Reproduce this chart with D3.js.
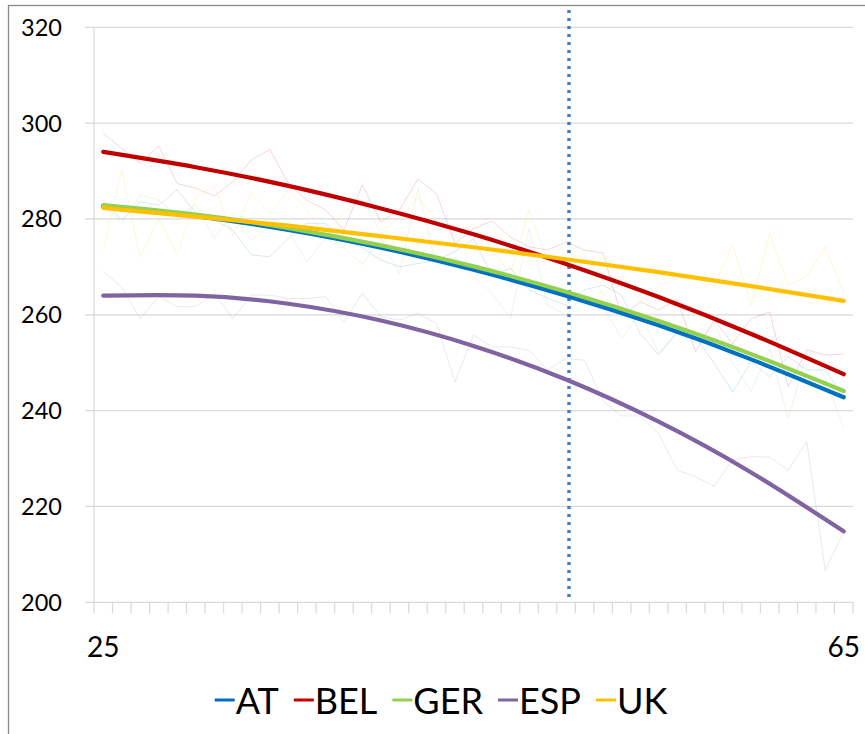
<!DOCTYPE html>
<html><head><meta charset="utf-8">
<script src="https://cdn.jsdelivr.net/npm/d3@7"></script>
<style>body{margin:0;background:#fff}svg{display:block}</style>
</head><body>
<svg id="c" width="865" height="734"></svg>
<script>
// ---- data ----
const ages = [25,26,27,28,29,30,31,32,33,34,35,36,37,38,39,40,41,42,43,44,45,46,47,48,49,50,51,52,53,54,55,56,57,58,59,60,61,62,63,64,65];
const countries = ["AT","BEL","GER","ESP","UK"];
const colors = ["#0070C0","#C00000","#92D050","#8064A2","#FFC000"];
const yTicks = [200,220,240,260,280,300,320];
const xTickLabels = [25,65];
const markerAge = 50.15;

// raw yearly values (faint lines)
const rawAT  = [283.9,279.8,283.6,282.9,286.1,281.2,279.8,277.7,272.5,272.1,275.9,279.1,279.1,275.6,274.0,271.4,270.0,270.7,271.4,273.2,275.9,268.3,269.7,265.2,263.5,262.0,265.2,266.2,264.1,256.1,251.6,256.5,255.4,249.9,243.9,250.2,247.1,251.3,248.5,248.5,242.9];
const rawBEL = [297.9,294.7,291.7,295.2,287.4,286.4,284.8,287.8,292.3,294.5,287.4,283.9,281.9,277.7,287.1,279.4,281.9,288.3,285.3,274.9,278.0,279.6,276.2,274.2,273.5,275.2,273.5,272.9,259.6,262.7,261.0,263.2,252.3,258.9,254.0,259.2,260.6,245.0,252.7,251.6,251.8];
const rawGER = [283.0,279.0,285.0,284.0,280.5,283.0,276.0,281.0,275.5,278.5,277.5,271.0,276.0,274.0,270.5,276.0,268.5,286.4,270.0,272.0,268.0,264.5,259.2,278.0,262.0,260.0,264.0,262.0,255.0,260.5,252.0,256.0,254.0,258.0,250.0,244.0,253.0,238.3,252.0,247.0,236.3];
const rawESP = [269.0,265.8,259.2,263.8,261.7,261.7,264.5,259.2,264.1,264.1,263.4,263.4,263.8,258.5,264.5,259.6,258.9,260.3,258.2,246.0,255.8,253.3,253.3,252.6,248.5,250.9,250.5,242.0,238.9,238.9,235.2,227.6,226.2,224.2,229.7,230.4,230.3,227.6,233.5,206.7,214.7];
const rawUK  = [273.5,290.2,272.1,280.0,272.5,284.5,287.0,276.5,285.5,281.0,286.0,282.0,276.0,281.5,284.0,277.0,280.5,284.5,279.5,276.5,279.0,273.5,268.5,282.0,271.0,273.0,272.0,264.0,268.0,263.0,266.0,267.5,268.0,266.0,274.6,262.0,277.0,266.2,268.0,274.2,264.5];

// fitted trend values (smooth lines)
const fitAges = [25,30,35,40,45,50,55,60,65];
const fitAT  = [282.7,280.6,277.7,274.0,269.4,264.0,257.8,250.7,242.8];
const fitBEL = [294.0,290.8,286.9,282.2,276.8,270.6,263.7,256.0,247.6];
const fitGER = [282.9,280.9,278.1,274.5,270.1,264.8,258.7,251.8,244.1];
const fitESP = [264.0,264.0,262.3,258.8,253.5,246.5,237.7,227.1,214.8];
const fitUK  = [282.3,280.5,278.6,276.4,274.1,271.6,268.9,266.0,262.9];

const raws = [rawAT,rawBEL,rawGER,rawESP,rawUK];
const fits = [fitAT,fitBEL,fitGER,fitESP,fitUK];

// ---- chart ----
const svg = d3.select("#c");
const L = 94, R = 853, T = 27.3, B = 602.3;
const x = d3.scaleLinear().domain([24.5,65.5]).range([L,R]);
const y = d3.scaleLinear().domain([200,320]).range([B,T]);

// outer border
svg.append("rect").attr("x",8.5).attr("y",5.5).attr("width",900).attr("height",800)
  .attr("fill","none").attr("stroke","#8a8a8a").attr("stroke-width",1.3);

// gridlines
svg.append("g").selectAll("line").data(yTicks).join("line")
  .attr("x1",85).attr("x2",R).attr("y1",d=>y(d)).attr("y2",d=>y(d))
  .attr("stroke","#d9d9d9").attr("stroke-width",1.2);
// left axis line
svg.append("line").attr("x1",L).attr("x2",L).attr("y1",T).attr("y2",B)
  .attr("stroke","#d9d9d9").attr("stroke-width",1.2);
// x category ticks
const bounds = ages.map(a=>a-0.5).concat([ages[ages.length-1]+0.5]);
svg.append("g").selectAll("line").data(bounds).join("line")
  .attr("x1",d=>x(d)).attr("x2",d=>x(d)).attr("y1",B).attr("y2",B+11)
  .attr("stroke","#d9d9d9").attr("stroke-width",1.2);

// y labels
svg.append("g").selectAll("text").data(yTicks).join("text")
  .attr("x",62).attr("y",d=>y(d)).attr("dy","0.36em").attr("text-anchor","end")
  .attr("font-family","Lato, 'Open Sans', sans-serif").attr("font-size",23.5).attr("fill","#000")
  .text(d=>d);
// x labels
svg.append("g").selectAll("text").data(xTickLabels).join("text")
  .attr("x",d=>x(d)).attr("y",657).attr("text-anchor","middle")
  .attr("font-family","Lato, 'Open Sans', sans-serif").attr("font-size",28).attr("fill","#000")
  .text(d=>d);

// raw faint lines
const rawLine = d3.line().x((d,i)=>x(ages[i])).y(d=>y(d));
svg.append("g").selectAll("path").data(raws).join("path")
  .attr("d",d=>rawLine(d)).attr("fill","none")
  .attr("stroke",(d,i)=>colors[i]).attr("stroke-opacity",0.16).attr("stroke-width",1);

// marker dotted line
const mx = Math.round(x(markerAge));
svg.append("line").attr("x1",mx).attr("x2",mx).attr("y1",10).attr("y2",598)
  .attr("stroke","#4a7dbf").attr("stroke-width",3.5).attr("stroke-dasharray","3,5");

// fitted lines
const fitLine = d3.line().x((d,i)=>x(fitAges[i])).y(d=>y(d)).curve(d3.curveNatural);
svg.append("g").selectAll("path").data(fits).join("path")
  .attr("d",d=>fitLine(d)).attr("fill","none")
  .attr("stroke",(d,i)=>colors[i]).attr("stroke-width",4.2).attr("stroke-linecap","round");

// legend
const lg = svg.append("g");
let cx = 0;
countries.forEach((c,i)=>{
  const g = lg.append("g").attr("transform",`translate(${cx},0)`);
  g.append("line").attr("x1",0).attr("x2",20).attr("y1",700).attr("y2",700)
    .attr("stroke",colors[i]).attr("stroke-width",3);
  const t = g.append("text").attr("x",21).attr("y",714)
    .attr("font-family","Lato, 'Open Sans', sans-serif").attr("font-size",36).attr("fill","#000").text(c);
  const w = t.node().getComputedTextLength();
  cx += 21 + w + 15;
});
const totalW = cx - 15;
lg.attr("transform",`translate(${441 - totalW/2},0)`);
</script>
</body></html>
